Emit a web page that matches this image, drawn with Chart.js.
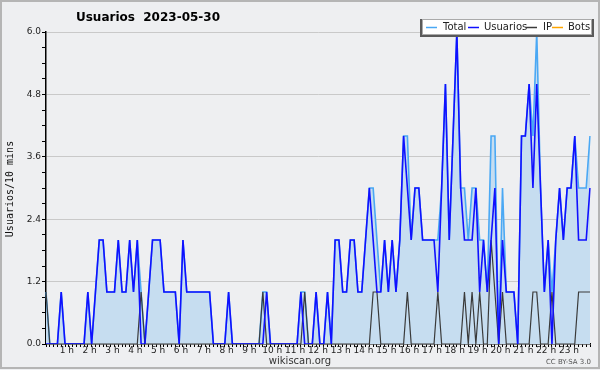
<!DOCTYPE html>
<html>
<head>
<meta charset="utf-8">
<script src="https://cdn.jsdelivr.net/npm/chart.js@4.4.1/dist/chart.umd.min.js"></script>
<style>
  html, body { margin: 0; padding: 0; background: #eeeff1; }
  #wrap { width: 600px; height: 370px; }
</style>
</head>
<body>
<div id="wrap"><canvas id="usersChart" width="600" height="370"></canvas></div>
<script>
// 10-minute slots, 00:00 .. 23:50
const slots = Array.from({ length: 144 }, (_, i) => i);

const total = [
  1, 0, 0, 0, 1, 0, 0, 0, 0, 0, 0, 1,
  0, 1, 2, 2, 1, 1, 1, 2, 1, 1, 2, 1,
  2, 1, 0, 1, 2, 2, 2, 1, 1, 1, 1, 0,
  2, 1, 1, 1, 1, 1, 1, 1, 0, 0, 0, 0,
  1, 0, 0, 0, 0, 0, 0, 0, 0, 1, 1, 0,
  0, 0, 0, 0, 0, 0, 0, 1, 1, 0, 0, 1,
  0, 0, 1, 0, 2, 2, 1, 1, 2, 2, 1, 1,
  2, 3, 3, 2, 1, 2, 1, 2, 1, 2, 4, 4,
  2, 3, 3, 2, 2, 2, 2, 2, 3, 5, 2, 4,
  6, 3, 3, 2, 3, 3, 2, 2, 1, 4, 4, 0,
  3, 1, 1, 1, 0, 4, 4, 5, 4, 6, 3, 1,
  2, 1, 2, 3, 2, 3, 3, 4, 3, 3, 3, 4
];

const usuarios = [
  0, 0, 0, 0, 1, 0, 0, 0, 0, 0, 0, 1,
  0, 1, 2, 2, 1, 1, 1, 2, 1, 1, 2, 1,
  2, 0, 0, 1, 2, 2, 2, 1, 1, 1, 1, 0,
  2, 1, 1, 1, 1, 1, 1, 1, 0, 0, 0, 0,
  1, 0, 0, 0, 0, 0, 0, 0, 0, 0, 1, 0,
  0, 0, 0, 0, 0, 0, 0, 1, 0, 0, 0, 1,
  0, 0, 1, 0, 2, 2, 1, 1, 2, 2, 1, 1,
  2, 3, 2, 1, 1, 2, 1, 2, 1, 2, 4, 3,
  2, 3, 3, 2, 2, 2, 2, 1, 3, 5, 2, 4,
  6, 3, 2, 2, 2, 3, 1, 2, 1, 2, 3, 0,
  2, 1, 1, 1, 0, 4, 4, 5, 3, 5, 3, 1,
  2, 0, 2, 3, 2, 3, 3, 4, 2, 2, 2, 3
];

const ip = [
  1, 0, 0, 0, 0, 0, 0, 0, 0, 0, 0, 0,
  0, 0, 0, 0, 0, 0, 0, 0, 0, 0, 0, 0,
  0, 1, 0, 0, 0, 0, 0, 0, 0, 0, 0, 0,
  0, 0, 0, 0, 0, 0, 0, 0, 0, 0, 0, 0,
  0, 0, 0, 0, 0, 0, 0, 0, 0, 1, 0, 0,
  0, 0, 0, 0, 0, 0, 0, 0, 1, 0, 0, 0,
  0, 0, 0, 0, 0, 0, 0, 0, 0, 0, 0, 0,
  0, 0, 1, 1, 0, 0, 0, 0, 0, 0, 0, 1,
  0, 0, 0, 0, 0, 0, 0, 1, 0, 0, 0, 0,
  0, 0, 1, 0, 1, 0, 1, 0, 0, 2, 1, 0,
  1, 0, 0, 0, 0, 0, 0, 0, 1, 1, 0, 0,
  0, 1, 0, 0, 0, 0, 0, 0, 1, 1, 1, 1
];

const bots = [
  0, 0, 0, 0, 0, 0, 0, 0, 0, 0, 0, 0,
  0, 0, 0, 0, 0, 0, 0, 0, 0, 0, 0, 0,
  0, 0, 0, 0, 0, 0, 0, 0, 0, 0, 0, 0,
  0, 0, 0, 0, 0, 0, 0, 0, 0, 0, 0, 0,
  0, 0, 0, 0, 0, 0, 0, 0, 0, 0, 0, 0,
  0, 0, 0, 0, 0, 0, 0, 0, 0, 0, 0, 0,
  0, 0, 0, 0, 0, 0, 0, 0, 0, 0, 0, 0,
  0, 0, 0, 0, 0, 0, 0, 0, 0, 0, 0, 0,
  0, 0, 0, 0, 0, 0, 0, 0, 0, 0, 0, 0,
  0, 0, 0, 0, 0, 0, 0, 0, 0, 0, 0, 0,
  0, 0, 0, 0, 0, 0, 0, 0, 0, 0, 0, 0,
  0, 0, 0, 0, 0, 0, 0, 0, 0, 0, 0, 0
];

const yMax = 6;
const yStep = 0.3;      // minor tick
const yLabelEvery = 1.2; // labelled tick

const colors = {
  total: "#4aa8f4",
  usuarios: "#1010ff",
  ip: "#3a3a3a",
  bots: "#ffa500",
  fill: "#c6ddf0",
  bg: "#eeeff1",
};

function isMajor(v) {
  return Math.round(v * 10) % Math.round(yLabelEvery * 10) === 0;
}

// background, frame, title, footer, legend
const decorations = {
  id: "decorations",
  beforeDraw(chart) {
    const c = chart.ctx;
    c.save();
    c.fillStyle = colors.bg;
    c.fillRect(0, 0, chart.width, chart.height);
    c.restore();
  },
  afterDraw(chart) {
    const c = chart.ctx;
    c.save();

    // outer frame
    c.strokeStyle = "#b5b5b5";
    c.lineWidth = 2;
    c.strokeRect(1, 1, 598, 367);

    // title
    c.fillStyle = "#000";
    c.font = "bold 12px 'DejaVu Sans'";
    c.textAlign = "center";
    c.textBaseline = "middle";
    c.fillText("Usuarios  2023-05-30", 148, 18);

    // y axis title
    c.save();
    c.translate(10, 189);
    c.rotate(-Math.PI / 2);
    c.font = "10px 'DejaVu Sans Mono'";
    c.fillStyle = "#111";
    c.fillText("Usuarios/10 mins", 0, 0);
    c.restore();

    // footer
    c.font = "10px 'DejaVu Sans'";
    c.fillStyle = "#333";
    c.fillText("wikiscan.org", 300, 361);
    c.font = "7px 'DejaVu Sans'";
    c.fillStyle = "#555";
    c.textAlign = "right";
    c.fillText("CC BY-SA 3.0", 591, 362);

    // legend box
    c.fillStyle = "#5a5a5a";
    c.fillRect(420, 19, 174, 18);
    c.fillStyle = "#ffffff";
    c.fillRect(422, 19, 170, 16);
    c.strokeStyle = "#aaaaaa";
    c.lineWidth = 1;
    c.strokeRect(422.5, 19.5, 169, 15);

    const items = chart.data.datasets.slice().sort((a, b) => a.legendPos - b.legendPos);
    const layout = [
      { line: 426, text: 443 },
      { line: 468, text: 484 },
      { line: 526, text: 543 },
      { line: 552, text: 568 },
    ];
    c.font = "10px 'DejaVu Sans'";
    c.textAlign = "left";
    items.forEach((ds, i) => {
      const p = layout[i];
      c.strokeStyle = ds.borderColor;
      c.lineWidth = 1.5;
      c.beginPath();
      c.moveTo(p.line, 27.5);
      c.lineTo(p.line + 11, 27.5);
      c.stroke();
      c.fillStyle = "#222";
      c.fillText(ds.label, p.text, 27.5);
    });

    c.restore();
  },
};

new Chart(document.getElementById("usersChart"), {
  type: "line",
  data: {
    labels: slots,
    datasets: [
      {
        label: "Usuarios",
        legendPos: 1,
        data: usuarios,
        borderColor: colors.usuarios,
        borderWidth: 1.6,
        order: 1,
      },
      {
        label: "IP",
        legendPos: 2,
        data: ip,
        borderColor: colors.ip,
        borderWidth: 1.2,
        order: 2,
      },
      {
        label: "Total",
        legendPos: 0,
        data: total,
        borderColor: colors.total,
        backgroundColor: colors.fill,
        fill: "origin",
        borderWidth: 1.6,
        order: 3,
      },
      {
        label: "Bots",
        legendPos: 3,
        data: bots,
        borderColor: colors.bots,
        borderWidth: 1.2,
        order: 4,
      },
    ],
  },
  options: {
    responsive: false,
    animation: false,
    events: [],
    layout: { padding: { left: 0, top: 32, right: 10, bottom: 0 } },
    elements: {
      point: { radius: 0 },
      line: { tension: 0 },
    },
    plugins: {
      legend: { display: false },
      tooltip: { enabled: false },
      title: { display: false },
    },
    scales: {
      x: {
        type: "category",
        offset: false,
        afterFit: (s) => { s.height = 26; },
        border: { color: "#000", width: 1.5 },
        grid: {
          drawOnChartArea: false,
          tickLength: 3,
          tickColor: "#000",
          tickWidth: 1,
        },
        ticks: {
          autoSkip: false,
          maxRotation: 0,
          padding: -2,
          labelOffset: -2,
          color: "#222",
          font: { family: "'DejaVu Sans'", size: 9 },
          callback: (v, i) => (i > 0 && i % 6 === 0 ? i / 6 + " h" : ""),
        },
      },
      y: {
        min: 0,
        max: yMax,
        afterFit: (s) => { s.width = 46; },
        border: { color: "#000", width: 1.5 },
        grid: {
          color: (ctx) => (ctx.tick && ctx.tick.value > 0 && isMajor(ctx.tick.value) ? "#c9c9c9" : "rgba(0,0,0,0)"),
          lineWidth: 1,
          tickLength: 4,
          tickColor: "#000",
        },
        ticks: {
          stepSize: yStep,
          autoSkip: false,
          padding: 1,
          color: "#222",
          font: { family: "'DejaVu Sans'", size: 9 },
          callback: (v) => (isMajor(v) ? (Math.round(v * 10) / 10).toFixed(1) : ""),
        },
      },
    },
  },
  plugins: [decorations],
});
</script>
</body>
</html>
